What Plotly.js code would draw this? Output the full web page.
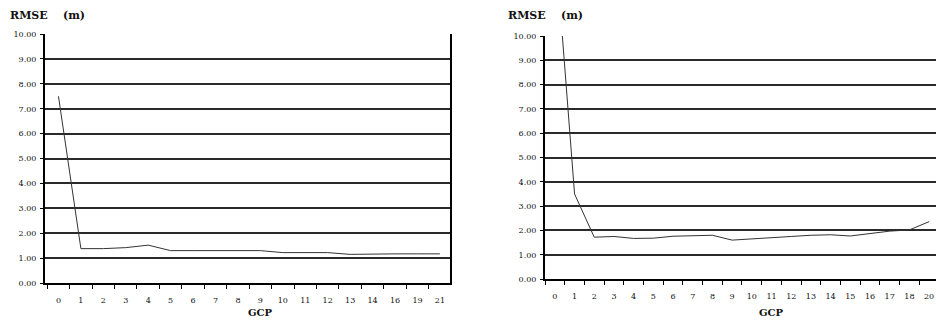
<!DOCTYPE html>
<html>
<head>
<meta charset="utf-8">
<script src="https://cdn.plot.ly/plotly-3.0.1.min.js"></script>
<style>
  html, body { margin: 0; padding: 0; background: #fff; }
  #chart { width: 936px; height: 320px; }
</style>
</head>
<body>
<div id="chart"></div>
<script>
// ---- data ----
const leftCategories = ['0','1','2','3','4','5','6','7','8','9','10','11','12','13','14','16','19','21'];
const leftRmse = [7.50, 1.38, 1.38, 1.42, 1.52, 1.30, 1.30, 1.30, 1.30, 1.30, 1.22, 1.22, 1.22, 1.15, 1.17, 1.17, 1.17, 1.17];

const rightCategories = ['0','1','2','3','4','5','6','7','8','9','10','11','12','13','14','15','16','17','18','20'];
const rightRmse = [14.0, 3.50, 1.72, 1.75, 1.67, 1.68, 1.76, 1.77, 1.80, 1.60, 1.66, 1.71, 1.75, 1.80, 1.82, 1.77, 1.88, 1.97, 2.02, 2.36];

const yTickValues = [0,1,2,3,4,5,6,7,8,9,10];

const yTitleText = 'RMSE\u00a0\u00a0\u00a0\u00a0(m)';
const xTitleText = 'GCP';

// ---- styling ----
const W = 936, H = 320;
const serif = 'DejaVu Serif, Liberation Serif, serif';
const tickFont = {family: serif, size: 8, color: '#111'};

const traces = [
  {x: leftCategories, y: leftRmse, type: 'scatter', mode: 'lines',
   line: {color: '#333', width: 1}, xaxis: 'x', yaxis: 'y', hoverinfo: 'skip'},
  {x: rightCategories, y: rightRmse, type: 'scatter', mode: 'lines',
   line: {color: '#333', width: 1}, xaxis: 'x2', yaxis: 'y2', hoverinfo: 'skip'}
];

function xAxis(cats, domainPx, range, anchor) {
  return {
    type: 'category', categoryorder: 'array', categoryarray: cats,
    domain: [domainPx[0]/W, domainPx[1]/W], range: range, anchor: anchor,
    showgrid: false, zeroline: false,
    showline: true, linecolor: '#000', linewidth: 2,
    ticks: 'outside', tickson: 'boundaries', ticklen: 4, tickwidth: 1, tickcolor: '#000',
    tickfont: tickFont, ticklabelstandoff: 8, fixedrange: true
  };
}
function yAxis(domainPx, anchor, mirror) {
  return {
    domain: [(H - domainPx[1])/H, (H - domainPx[0])/H], range: [0, 10], anchor: anchor,
    tickvals: yTickValues, tickformat: '.2f',
    showgrid: true, gridcolor: '#2a2a2a', gridwidth: 2, zeroline: false,
    showline: true, linecolor: '#000', linewidth: 2, mirror: mirror,
    ticks: 'outside', ticklen: 3, tickwidth: 1, tickcolor: '#000',
    tickfont: tickFont, ticklabelstandoff: 2, fixedrange: true
  };
}

const layout = {
  width: W, height: H,
  margin: {l: 0, r: 0, t: 0, b: 0, pad: 0},
  paper_bgcolor: '#fff', plot_bgcolor: '#fff',
  showlegend: false,
  xaxis: xAxis(leftCategories, [45, 450], [-0.6, 17.45], 'y'),
  yaxis: yAxis([34, 283], 'x', true),
  xaxis2: xAxis(rightCategories, [545, 936], [-0.5, 19.35], 'y2'),
  yaxis2: yAxis([36, 279], 'x2', false),
  annotations: [
    {text: '<b>' + yTitleText + '</b>', xref: 'paper', yref: 'paper', x: 8/W, y: 1 - 15/H,
     xanchor: 'left', yanchor: 'middle', showarrow: false,
     font: {family: serif, size: 11, color: '#111'}},
    {text: '<b>' + yTitleText + '</b>', xref: 'paper', yref: 'paper', x: 506/W, y: 1 - 15/H,
     xanchor: 'left', yanchor: 'middle', showarrow: false,
     font: {family: serif, size: 11, color: '#111'}},
    {text: '<b>' + xTitleText + '</b>', xref: 'paper', yref: 'paper', x: 260/W, y: 1 - 312/H,
     xanchor: 'center', yanchor: 'middle', showarrow: false,
     font: {family: serif, size: 10, color: '#111'}},
    {text: '<b>' + xTitleText + '</b>', xref: 'paper', yref: 'paper', x: 771/W, y: 1 - 312/H,
     xanchor: 'center', yanchor: 'middle', showarrow: false,
     font: {family: serif, size: 10, color: '#111'}}
  ]
};

Plotly.newPlot('chart', traces, layout, {staticPlot: true, displayModeBar: false});
</script>
</body>
</html>
